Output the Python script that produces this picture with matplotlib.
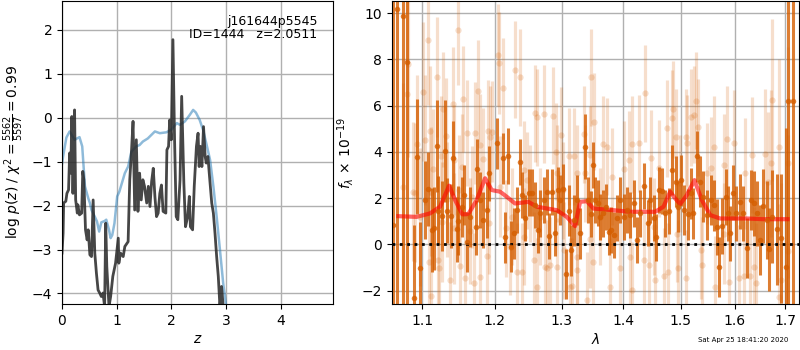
import numpy as np
import matplotlib
matplotlib.use("Agg")
import matplotlib.pyplot as plt
from matplotlib.ticker import FixedLocator, NullLocator, FixedFormatter

# ---------------- Left panel data: log p(z) and chi2 curve ----------------
z_chi = [0.0, 0.02, 0.08, 0.14, 0.23, 0.32, 0.37, 0.42, 0.48, 0.51, 0.54, 0.60, 0.64,
         0.68, 0.72, 0.78, 0.81, 0.86, 0.89, 0.92, 0.96, 1.01, 1.05, 1.15, 1.21, 1.27,
         1.36, 1.42, 1.48, 1.57, 1.70, 1.79, 1.91, 2.00, 2.10, 2.16, 2.25, 2.34, 2.40,
         2.45, 2.52, 2.58, 2.64, 2.71, 2.77, 2.83, 2.89, 2.95, 3.00, 3.10]
chi_curve = [-1.05, -0.88, -0.45, -0.31, -0.50, -0.44, -0.65, -1.56, -1.83, -1.94, -2.10,
             -2.25, -2.36, -2.59, -2.38, -2.35, -2.32, -2.55, -2.74, -2.67, -2.40, -1.79,
             -1.68, -1.26, -1.11, -0.77, -0.65, -0.62, -0.54, -0.47, -0.31, -0.35, -0.33,
             -0.27, -0.12, -0.16, -0.08, 0.07, 0.18, 0.12, -0.05, -0.27, -0.58, -0.96,
             -1.56, -2.25, -3.00, -3.77, -4.24, -5.50]

z_pz = [0.00, 0.02, 0.03, 0.07, 0.09, 0.12, 0.14, 0.16, 0.18, 0.20, 0.23, 0.25, 0.28,
        0.29, 0.32, 0.36, 0.38, 0.40, 0.43, 0.46, 0.48, 0.51, 0.54, 0.57, 0.60, 0.63,
        0.66, 0.69, 0.72, 0.75, 0.78, 0.80, 0.82, 0.86, 0.89, 0.93, 0.98, 1.03, 1.04,
        1.07, 1.12, 1.15, 1.21, 1.24, 1.27, 1.30, 1.33, 1.36, 1.39, 1.42, 1.45, 1.48,
        1.51, 1.55, 1.58, 1.61, 1.64, 1.67, 1.70, 1.73, 1.76, 1.79, 1.82, 1.85, 1.90,
        1.92, 1.95, 1.97, 2.00, 2.03, 2.06, 2.09, 2.12, 2.16, 2.19, 2.23, 2.26, 2.30,
        2.33, 2.35, 2.39, 2.42, 2.46, 2.49, 2.51, 2.53, 2.56, 2.59, 2.62, 2.64, 2.67,
        2.70, 2.74, 2.77, 2.80, 2.83, 2.86, 2.89, 2.92, 2.95, 3.00]
log_pz = [-3.08, -2.63, -1.94, -1.90, -1.72, -1.64, -0.80, -1.26, 0.03, -1.72, 0.18,
          -1.87, -2.17, -1.98, -2.21, -2.17, -1.22, -1.41, -2.55, -2.78, -2.55, -3.12,
          -3.16, -1.87, -3.08, -3.54, -3.92, -3.99, -4.07, -3.99, -4.30, -2.40, -3.39,
          -4.30, -4.07, -3.61, -3.31, -2.74, -3.31, -3.08, -3.16, -2.93, -2.82, -1.41,
          -0.80, -0.08, -2.10, -0.50, -2.13, -1.26, -1.87, -1.41, -1.56, -1.94, -1.56,
          -2.02, -1.45, -1.15, -1.79, -2.25, -2.17, -1.72, -1.53, -2.13, -2.17, -0.73,
          -0.65, -0.05, -0.50, 1.78, -0.50, -2.25, -2.32, -1.41, 0.49, -1.49, -2.48,
          -2.25, -1.79, -2.48, -2.55, -1.56, -0.65, -0.35, -1.11, -0.65, -1.11, -0.20,
          -0.88, -1.03, -0.88, -1.34, -1.94, -2.17, -2.63, -3.16, -3.61, -4.30, -3.84,
          -4.30, -6.50]

# ---------------- Right panel data: spectrum ----------------
lam_light = [1.0753, 1.0796, 1.0818, 1.0883, 1.0905, 1.0927, 1.0970, 1.1005, 1.1036, 1.1080,
             1.1093, 1.1102, 1.1111, 1.1115, 1.1146, 1.1200, 1.1205, 1.1227, 1.1246, 1.1260,
             1.1281, 1.1318, 1.1327, 1.1373, 1.1410, 1.1428, 1.1430, 1.1487, 1.1490, 1.1510,
             1.1533, 1.1555, 1.1579, 1.1611, 1.1649, 1.1672, 1.1705, 1.1719, 1.1766, 1.1790,
             1.1792, 1.1828, 1.1893, 1.1907, 1.1922, 1.1933, 1.1957, 1.2052, 1.2054, 1.2077,
             1.2116, 1.2164, 1.2223, 1.2248, 1.2296, 1.2322, 1.2361, 1.2396, 1.2420, 1.2421,
             1.2479, 1.2520, 1.2570, 1.2596, 1.2621, 1.2623, 1.2672, 1.2734, 1.2749, 1.2774,
             1.2825, 1.2867, 1.2918, 1.2929, 1.2931, 1.2996, 1.3022, 1.3032, 1.3110, 1.3137,
             1.3164, 1.3189, 1.3243, 1.3245, 1.3247, 1.3350, 1.3377, 1.3404, 1.3457, 1.3459,
             1.3473, 1.3502, 1.3511, 1.3622, 1.3664, 1.3730, 1.3785, 1.3813, 1.3951, 1.4007,
             1.4091, 1.4120, 1.4149, 1.4150, 1.4262, 1.4348, 1.4365, 1.4435, 1.4476, 1.4522,
             1.4551, 1.4609, 1.4697, 1.4757, 1.4768, 1.4846, 1.4856, 1.4905, 1.4935, 1.4946,
             1.4982, 1.5086, 1.5088, 1.5117, 1.5177, 1.5238, 1.5268, 1.5311, 1.5360, 1.5391,
             1.5484, 1.5559, 1.5608, 1.5621, 1.5797, 1.5799, 1.5848, 1.5892, 1.5989, 1.6085,
             1.6182, 1.6195, 1.6298, 1.6345, 1.6377, 1.6410, 1.6587, 1.6653, 1.6710, 1.6744,
             1.6878, 1.6880, 1.6926, 1.7049, 1.7069]
flux_light = [2.49, 6.50, 7.80, 2.28, 2.24, 4.34, 1.19, 6.61, 4.52, 8.85,
              -0.75, 4.90, 2.28, -2.24, 3.25, 7.23, -0.68, -1.04, 3.82, 0.98,
              5.84, 4.69, 1.95, -1.54, 6.06, 3.65, 0.69, 9.28, 2.35, -0.94,
              3.36, 6.28, -1.47, 4.83, 0.59, 2.06, -1.69, 4.83, 6.65, 4.30,
              -1.40, 3.68, -0.50, 4.92, 0.91, 4.66, 4.88, 8.20, 7.86, 2.50,
              6.75, 0.69, -0.10, 1.20, 7.55, -1.18, 7.23, -1.18, 3.22, 0.33,
              2.78, 2.21, -0.68, 5.67, 5.50, -1.83, 1.20, 5.64, -0.97, -1.04,
              -0.90, 5.56, 4.01, 3.07, -0.97, 4.73, 2.35, -0.25, 3.82, -1.83,
              -1.81, 3.82, 3.07, -1.11, -0.53, 4.76, 3.07, -2.41, 0.22, 3.87,
              7.23, -0.75, 5.31, 1.19, 4.34, 4.23, -1.83, 2.93, -1.04, 3.25,
              3.65, -0.53, 4.34, -1.98, 4.37, -0.68, 6.54, -0.90, 3.72, 0.76,
              -1.54, 3.29, -1.37, 5.02, -1.18, 5.45, 5.84, 4.63, 0.47, -1.04,
              2.64, 4.63, -1.47, 4.37, 5.50, 5.60, 6.22, 5.06, -0.25, -0.90,
              3.07, 3.29, 4.23, -1.83, 3.43, 0.47, 4.55, -1.62, 4.37, -1.47,
              -1.37, 3.07, -1.37, 3.87, -0.97, -1.69, 3.91, 2.71, 3.50, 6.25,
              4.23, -2.27, -1.54, -0.27, 3.54]
err_light = [4.5, 4.5, 4.0, 3.0, 3.0, 3.0, 3.0, 3.0, 2.8, 2.8,
             2.8, 2.8, 2.8, 2.8, 2.6, 2.6, 2.6, 2.6, 2.6, 2.6,
             2.5, 2.5, 2.5, 2.5, 2.5, 2.4, 2.4, 2.4, 2.4, 2.4,
             2.3, 2.3, 2.3, 2.3, 2.3, 2.2, 2.2, 2.2, 2.2, 2.2,
             2.2, 2.2, 2.2, 2.2, 2.2, 2.2, 2.2, 2.2, 2.2, 2.2,
             2.2, 2.1, 2.1, 2.1, 2.1, 2.1, 2.1, 2.1, 2.1, 2.1,
             2.1, 2.1, 2.1, 2.1, 2.1, 2.1, 2.1, 2.1, 2.1, 2.1,
             2.1, 2.1, 2.1, 2.1, 2.1, 2.1, 2.1, 2.1, 2.1, 2.1,
             2.1, 2.1, 2.1, 2.1, 2.1, 2.1, 2.1, 2.1, 2.1, 2.1,
             2.1, 2.1, 2.1, 2.1, 2.1, 2.1, 2.1, 2.1, 2.1, 2.1,
             2.1, 2.1, 2.1, 2.1, 2.1, 2.1, 2.1, 2.1, 2.1, 2.1,
             2.1, 2.1, 2.1, 2.1, 2.1, 2.1, 2.1, 2.1, 2.1, 2.1,
             2.1, 2.1, 2.1, 2.1, 2.1, 2.1, 2.1, 2.1, 2.1, 2.1,
             2.2, 2.2, 2.2, 2.2, 2.2, 2.2, 2.3, 2.3, 2.3, 2.3,
             2.4, 2.4, 2.5, 2.5, 2.6, 2.6, 2.8, 3.0, 3.2, 3.5,
             3.8, 4.0, 4.2, 5.0, 5.0]

lam_dark = [1.0624, 1.0675, 1.0753, 1.0796, 1.0892, 1.0935, 1.0970, 1.1036, 1.1080, 1.1125,
            1.1155, 1.1191, 1.1213, 1.1268, 1.1305, 1.1336, 1.1382, 1.1418, 1.1464, 1.1487,
            1.1533, 1.1565, 1.1603, 1.1649, 1.1729, 1.1752, 1.1790, 1.1837, 1.1886, 1.1919,
            1.2038, 1.2116, 1.2150, 1.2198, 1.2233, 1.2282, 1.2322, 1.2361, 1.2405, 1.2446,
            1.2495, 1.2546, 1.2596, 1.2631, 1.2672, 1.2723, 1.2774, 1.2810, 1.2851, 1.2892,
            1.2944, 1.2980, 1.3022, 1.3074, 1.3116, 1.3153, 1.3189, 1.3243, 1.3296, 1.3366,
            1.3414, 1.3470, 1.3502, 1.3539, 1.3576, 1.3620, 1.3664, 1.3719, 1.3757, 1.3797,
            1.3840, 1.3896, 1.3951, 1.4007, 1.4064, 1.4120, 1.4176, 1.4234, 1.4291, 1.4360,
            1.4417, 1.4464, 1.4522, 1.4569, 1.4621, 1.4669, 1.4726, 1.4785, 1.4846, 1.4905,
            1.4946, 1.4995, 1.5055, 1.5128, 1.5177, 1.5227, 1.5300, 1.5348, 1.5412, 1.5486,
            1.5546, 1.5608, 1.5659, 1.5702, 1.5766, 1.5829, 1.5873, 1.5911, 1.5969, 1.6034,
            1.6103, 1.6170, 1.6247, 1.6312, 1.6377, 1.6445, 1.6496, 1.6563, 1.6629, 1.6683,
            1.6744, 1.6831, 1.6912, 1.7014, 1.7061, 1.7152]
flux_dark = [0.84, 10.20, 9.86, 7.88, -2.34, 3.80, -1.04, 1.92, 2.38, 0.62,
             0.69, 4.26, 1.46, 1.23, 4.05, 1.46, 1.23, 3.72, 0.65, 1.02,
             1.63, 2.14, 0.09, 1.20, 0.74, 3.25, 1.92, 1.05, 1.49, 3.07,
             4.37, 3.72, 0.30, 3.82, -0.10, 0.48, 1.49, 3.58, 2.14, 1.13,
             2.24, 2.24, 1.70, 0.62, 1.34, 1.92, 2.28, 0.36, 2.28, 0.48,
             2.35, 1.92, 2.38, -1.28, 1.46, -0.25, 1.05, 1.92, 0.48, 4.23,
             1.92, 1.31, 3.43, 1.92, 1.80, 1.20, 1.34, 1.63, 0.55, 0.62,
             0.40, 1.13, 1.92, 1.20, 1.49, 1.27, 1.77, 0.19, 1.34, 2.53,
             0.91, 1.92, 1.13, 0.30, 2.35, 2.32, 1.34, 1.46, 3.22, 2.71,
             1.63, 2.78, 1.49, 1.31, 2.21, 1.34, 3.82, 2.71, 2.06, 1.27,
             1.92, 1.70, 0.76, -0.97, 0.79, 2.06, 1.34, 0.48, 2.24, 1.34,
             1.85, 1.34, -0.17, 1.92, 1.77, 1.34, 0.19, 1.66, 1.05, -0.22,
             1.20, 0.65, 0.26, -0.97, 6.22, 6.22]
err_dark = [14.0, 14.0, 14.0, 11.0, 3.2, 2.5, 2.0, 1.7, 1.6, 1.8,
            1.8, 2.0, 1.5, 1.5, 2.2, 1.4, 1.4, 1.6, 1.4, 1.5,
            1.3, 1.3, 1.3, 1.3, 1.2, 1.3, 1.2, 1.2, 1.2, 1.2,
            1.1, 1.1, 1.1, 1.2, 1.1, 1.1, 1.0, 1.0, 1.0, 1.0,
            1.0, 1.0, 1.0, 1.0, 1.0, 1.0, 1.0, 1.0, 1.0, 1.0,
            1.0, 1.1, 1.1, 1.1, 1.1, 1.1, 1.1, 1.1, 1.1, 1.4,
            1.0, 1.0, 1.0, 1.0, 1.0, 1.0, 1.0, 1.0, 1.0, 1.0,
            1.0, 1.0, 1.0, 1.0, 1.0, 1.0, 1.0, 1.0, 1.0, 1.0,
            1.0, 1.0, 1.0, 1.0, 1.0, 1.0, 1.0, 1.0, 1.1, 1.1,
            1.1, 1.1, 1.1, 1.1, 1.1, 1.1, 1.1, 1.1, 1.1, 1.1,
            1.1, 1.1, 1.2, 1.3, 1.2, 1.2, 1.2, 1.2, 1.2, 1.2,
            1.2, 1.2, 1.3, 1.3, 1.4, 1.4, 1.5, 1.6, 1.7, 1.8,
            2.0, 2.4, 2.8, 6.0, 14.0, 14.0]

lam_model = [1.0688, 1.0926, 1.1102, 1.1237, 1.1359, 1.1441, 1.1541, 1.1624, 1.1742, 1.1860,
             1.1956, 1.2076, 1.2173, 1.2295, 1.2493, 1.2619, 1.2926, 1.3082, 1.3213, 1.3292,
             1.3400, 1.3507, 1.3835, 1.4114, 1.4546, 1.4692, 1.4810, 1.4899, 1.4989, 1.5109,
             1.5248, 1.5383, 1.5538, 1.5725, 1.6237, 1.6565, 1.7050]
flux_model = [1.22, 1.19, 1.34, 1.63, 2.54, 1.92, 1.30, 1.31, 1.92, 2.86,
              2.35, 2.28, 2.06, 1.77, 1.84, 1.63, 1.48, 1.19, 0.79, 1.84,
              1.87, 1.55, 1.48, 1.41, 1.41, 1.63, 2.28, 1.99, 1.74, 2.13,
              2.78, 1.92, 1.27, 1.12, 1.12, 1.09, 1.09]

xtick_vals = [1.1, 1.2, 1.3, 1.4, 1.5, 1.6, 1.7]
xtick_labels = ['1.1', '1.2', '1.3', '1.4', '1.5', '1.6', '1.7']

# ---------------- Figure ----------------
fig = plt.figure(figsize=(8, 3.5), dpi=100)

ax1 = fig.add_axes([0.0775, 0.1314, 0.3388, 0.8657])
ax1.plot(z_chi, chi_curve, color='#1f77b4', alpha=0.5, lw=1.8)
ax1.plot(z_pz, log_pz, color='0.15', alpha=0.85, lw=2)
ax1.set_xlim(0, 4.96)
ax1.set_ylim(-4.24, 2.66)
ax1.set_xticks([0, 1, 2, 3, 4])
ax1.set_yticks([-4, -3, -2, -1, 0, 1, 2])
ax1.grid(True, color='#b0b0b0', lw=1)
ax1.set_axisbelow(True)
ax1.set_xlabel(r'$z$', labelpad=3)
ax1.set_ylabel(r'log $p(z)$ / $\chi^2=\frac{5562}{5597}=0.99$')
ax1.text(0.943, 0.955, 'j161644p5545\nID=1444   z=2.0511', transform=ax1.transAxes,
         ha='right', va='top', fontsize=9, linespacing=1.05)

ax2 = fig.add_axes([0.49, 0.1314, 0.509, 0.8657])
ax2.set_xscale('log')
color = '#d55e00'
ax2.errorbar(lam_light, flux_light, yerr=err_light, fmt='o', color=color, alpha=0.2,
             ms=4.5, elinewidth=2.3, capsize=0, mew=0)
ax2.errorbar(lam_dark, flux_dark, yerr=err_dark, fmt='o', color=color, alpha=0.8,
             ms=4, elinewidth=2.2, capsize=0, mew=0)
ax2.plot(lam_model, flux_model, color='r', alpha=0.6, lw=3)
ax2.axhline(0, color='k', ls=':', lw=2)
ax2.set_xlim(1.0607, 1.729)
ax2.set_ylim(-2.58, 10.53)
ax2.xaxis.set_major_locator(FixedLocator(xtick_vals))
ax2.xaxis.set_major_formatter(FixedFormatter(xtick_labels))
ax2.xaxis.set_minor_locator(NullLocator())
ax2.set_yticks([-2, 0, 2, 4, 6, 8, 10])
ax2.grid(True, color='#b0b0b0', lw=1)
ax2.set_axisbelow(True)
ax2.set_xlabel(r'$\lambda$', labelpad=3)
ax2.set_ylabel(r'$f_\lambda\,\times\,10^{-19}$')

fig.text(0.985, 0.029, 'Sat Apr 25 18:41:20 2020', ha='right', va='center', fontsize=5)

fig.savefig('out.png', dpi=100)
